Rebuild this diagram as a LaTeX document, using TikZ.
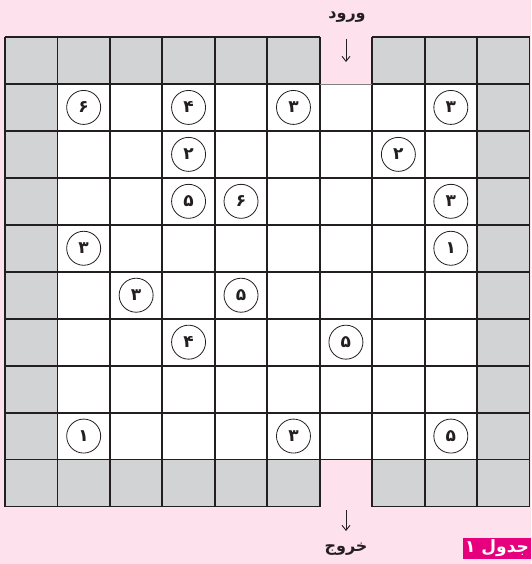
\documentclass[tikz,border=0pt]{standalone}
\usepackage{fontspec}
\usetikzlibrary{arrows.meta}
\TeXXeTstate=1
\newfontfamily\arabicfont[Script=Arabic]{DejaVu Sans}
\definecolor{bgpink}{HTML}{FDE1EC}
\definecolor{cellgray}{HTML}{D1D3D4}
\definecolor{inkline}{HTML}{231F20}
\definecolor{tagmag}{HTML}{E6007E}
\tikzset{
  gridline/.style={draw=inkline, line width=1.8pt},
  clue/.style={circle, draw=inkline, line width=0.8pt, minimum size=34pt, inner sep=0pt,
    font=\arabicfont\bfseries\fontsize{17}{17}\selectfont, text=inkline},
  lab/.style={font=\arabicfont\bfseries\fontsize{16}{16}\selectfont, text=inkline, inner sep=0pt},
  flow/.style={draw=inkline, line width=0.9pt, -{Straight Barb[length=5pt,width=8pt]}},
  tag/.style={fill=tagmag, text=white, minimum width=68pt, minimum height=21pt, inner sep=0pt,
    font=\arabicfont\bfseries\fontsize{17}{17}\selectfont}
}
\begin{document}
\begin{tikzpicture}[x=1pt,y=-1pt]
\useasboundingbox (0,0) rectangle (531,564);
\fill[bgpink] (0,0) rectangle (531,564);
\def\cw{52.45}
\def\rh{46.95}
% outer ring gray
\fill[cellgray] (5,37) rectangle (5+10*\cw,37+10*\rh);
% interior white
\fill[white] (5+\cw,37+\rh) rectangle (5+9*\cw,37+9*\rh);
% entrance and exit gaps
\fill[bgpink] (5+6*\cw,37) rectangle (5+7*\cw,37+\rh);
\fill[bgpink] (5+6*\cw,37+9*\rh) rectangle (5+7*\cw,37+10*\rh);
% vertical lines
\foreach \i in {0,...,10}{
  \draw[gridline] (5+\i*\cw,37) -- (5+\i*\cw,37+10*\rh);
}
% horizontal lines
\foreach \j in {0,10}{
  \draw[gridline] (5,37+\j*\rh) -- (5+6*\cw,37+\j*\rh);
  \draw[gridline] (5+7*\cw,37+\j*\rh) -- (5+10*\cw,37+\j*\rh);
}
\draw[draw=gray, line width=0.6pt] (5+6*\cw,37+\rh) -- (5+7*\cw,37+\rh);
\draw[gridline] (5,37+\rh) -- (5+6*\cw,37+\rh);
\draw[gridline] (5+7*\cw,37+\rh) -- (5+10*\cw,37+\rh);
\foreach \j in {2,...,9}{
  \draw[gridline] (5,37+\j*\rh) -- (5+10*\cw,37+\j*\rh);
}
% clues
\foreach \r/\c/\d in {1/1/۶,1/3/۴,1/5/۳,1/8/۳,2/3/۲,2/7/۲,3/3/۵,3/4/۶,3/8/۳,4/1/۳,4/8/۱,5/2/۳,5/4/۵,6/3/۴,6/6/۵,8/1/۱,8/5/۳,8/8/۵}{
  \node[clue] (n\r-\c) at (5+\cw*\c+0.5*\cw,37+\rh*\r+0.5*\rh) {\d};
}
% entrance / exit
\node[lab] (inlab) at (347,17) {\beginR ورود\endR};
\coordinate (inA) at (346,39);
\coordinate (inB) at (346,62);
\draw[flow] (inA) -- (inB);
\coordinate (outA) at (346,510);
\coordinate (outB) at (346,531);
\draw[flow] (outA) -- (outB);
\node[lab] (outlab) at (346,549) {\beginR خروج\endR};
% table tag
\node[tag] (tagnode) at (497,548) {\beginR جدول ۱\endR};
\end{tikzpicture}
\end{document}
